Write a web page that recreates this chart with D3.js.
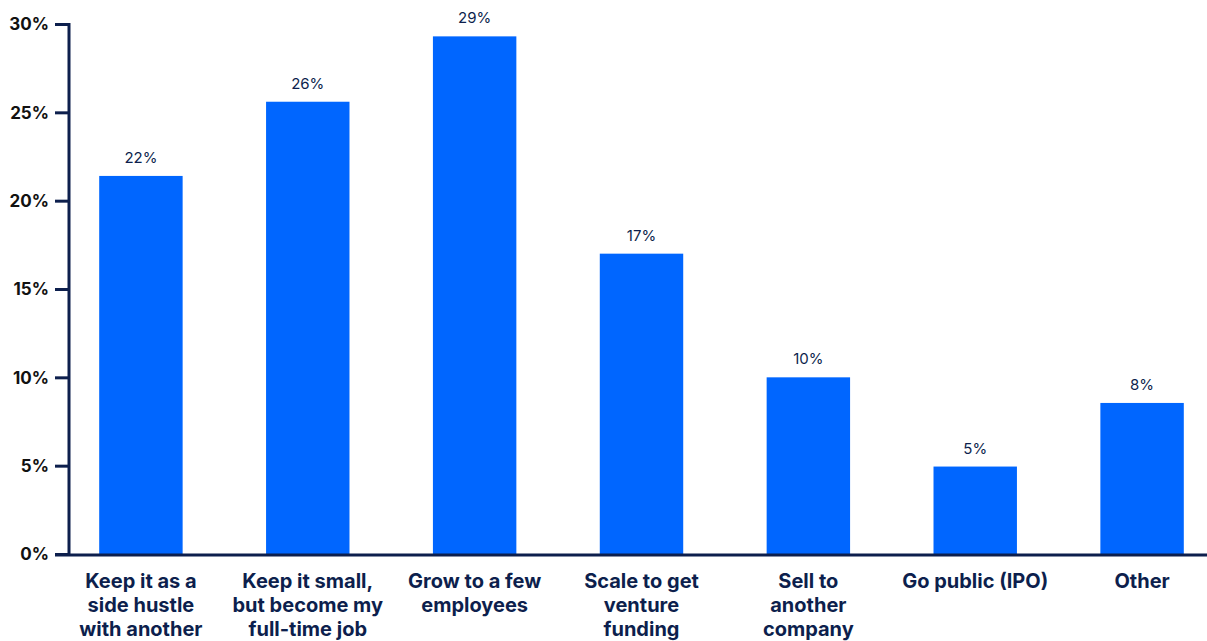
<!DOCTYPE html>
<html><head><meta charset="utf-8">
<script src="https://cdn.jsdelivr.net/npm/d3@7"></script>
<style>body{margin:0;background:#fff}svg{display:block}</style>
</head><body>
<script>
const categories = [
  ["Keep it as a","side hustle","with another"],
  ["Keep it small,","but become my","full-time job"],
  ["Grow to a few","employees"],
  ["Scale to get","venture","funding"],
  ["Sell to","another","company"],
  ["Go public (IPO)"],
  ["Other"]
];
const values = [21.4, 25.6, 29.3, 17.0, 10.0, 4.95, 8.55];
const valueLabels = ["22%","26%","29%","17%","10%","5%","8%"];
const yTicks = [0,5,10,15,20,25,30];

const W = 1207, H = 641;
const navy = "#0d1f4d";
const svg = d3.select("body").append("svg").attr("width", W).attr("height", H);

const x = d3.scaleBand().domain(d3.range(values.length)).range([70, 1213]).paddingInner(0.5).paddingOuter(0.175);
const y = d3.scaleLinear().domain([0, 30]).range([554, 24]);

// bars
svg.selectAll("rect.bar").data(values).join("rect")
  .attr("class","bar")
  .attr("x",(d,i)=>x(i)).attr("width",x.bandwidth())
  .attr("y",d=>y(d)).attr("height",d=>y(0)-y(d))
  .attr("fill","#0066ff");

// value labels
svg.selectAll("text.val").data(values).join("text")
  .attr("class","val")
  .attr("x",(d,i)=>x(i)+x.bandwidth()/2)
  .attr("y",d=>y(d)-13)
  .attr("text-anchor","middle")
  .attr("font-family","Inter, sans-serif").attr("font-size",15).attr("fill",navy)
  .text((d,i)=>valueLabels[i]);

// y axis
const yAxis = d3.axisLeft(y).tickValues(yTicks).tickFormat(d=>d+"%").tickSize(14).tickPadding(6);
const gy = svg.append("g").attr("transform","translate(69,0)").call(yAxis);
gy.select(".domain").attr("stroke",navy).attr("stroke-width",3).attr("d","M-14,24.5H0V555");
gy.selectAll(".tick line").attr("stroke",navy).attr("stroke-width",3);
gy.selectAll(".tick text").attr("font-family","Inter, sans-serif").attr("font-size",17).attr("font-weight",700).attr("fill","#111").attr("dy","0.35em");

// baseline
svg.append("line").attr("x1",55).attr("x2",W).attr("y1",y(0)+1).attr("y2",y(0)+1).attr("stroke",navy).attr("stroke-width",3);

// x labels
const xl = svg.selectAll("text.cat").data(categories).join("text")
  .attr("class","cat")
  .attr("text-anchor","middle")
  .attr("font-family","Inter, sans-serif").attr("font-size",20).attr("font-weight",700).attr("fill",navy);
xl.each(function(lines,i){
  d3.select(this).selectAll("tspan").data(lines).join("tspan")
    .attr("x",x(i)+x.bandwidth()/2)
    .attr("y",(d,j)=>588+j*24)
    .text(d=>d);
});
</script>
</body></html>
